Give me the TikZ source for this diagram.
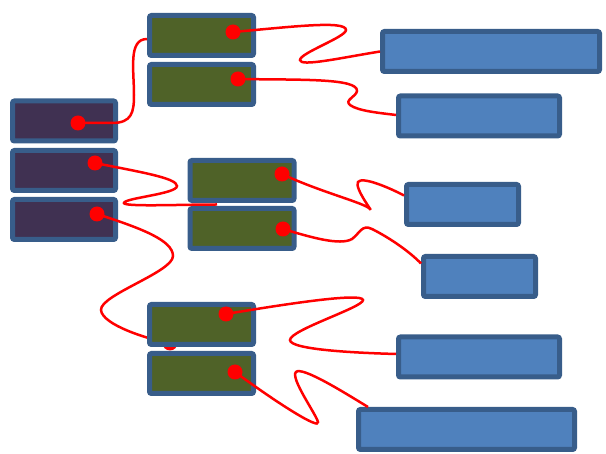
\documentclass[tikz,border=0pt]{standalone}
\usetikzlibrary{calc}
\definecolor{edgeblue}{HTML}{385D8A}
\definecolor{srcfill}{HTML}{403152}
\definecolor{midfill}{HTML}{4F6228}
\definecolor{dstfill}{HTML}{4F81BD}
\tikzset{
  box/.style={draw=edgeblue, line width=5pt, rounded corners=2pt, inner sep=0pt,
              minimum height=40pt},
  srcbox/.style={box, fill=srcfill, minimum width=103pt},
  midbox/.style={box, fill=midfill, minimum width=104pt},
  dstbox/.style={box, fill=dstfill},
  pin/.style={circle, fill=red, inner sep=0pt, minimum size=15pt},
  wire/.style={red, line width=2.5pt}
}
\begin{document}
\begin{tikzpicture}[x=1pt,y=-1pt]
\useasboundingbox (0,0) rectangle (606,454);

% left column
\node[srcbox] (p1) at (64,121) {};
\node[srcbox] (p2) at (64,170.5) {};
\node[srcbox] (p3) at (64,219.5) {};

% this wire runs under the lower middle box, so it comes first
\node[pin] (p3pin) at (97,214) {};
\node[pin] (tailpin) at (170,343) {};
\draw[wire] (p3pin.center)
  .. controls (140,228) and (173,240) .. (173,256)
  .. controls (173,272) and (100,295) .. (101,310)
  .. controls (102,325) and (150,340) .. (tailpin.center);

% middle column
\node[midbox] (g1) at (201.5,35.5) {};
\node[midbox] (g2) at (201.5,84.5) {};
\node[midbox] (g3) at (242,180.5) {};
\node[midbox] (g4) at (242,228.5) {};
\node[midbox] (g5) at (201.5,324.5) {};
\node[midbox] (g6) at (201.5,373.5) {};

% right column
\node[dstbox, minimum width=217pt] (b1) at (491,51.5) {};
\node[dstbox, minimum width=161pt] (b2) at (479,116) {};
\node[dstbox, minimum width=112pt] (b3) at (462.5,204.5) {};
\node[dstbox, minimum width=112pt] (b4) at (479.5,276.5) {};
\node[dstbox, minimum width=161pt] (b5) at (479,357) {};
\node[dstbox, minimum width=216pt] (b6) at (466.5,429.5) {};

% pins
\node[pin] (p1pin) at (78,123) {};
\node[pin] (p2pin) at (95,163) {};
\node[pin] (g1pin) at (233,32) {};
\node[pin] (g2pin) at (238,79) {};
\node[pin] (g3pin) at (282,174) {};
\node[pin] (g4pin) at (283,229) {};
\node[pin] (g5pin) at (226,314) {};
\node[pin] (g6pin) at (235,372) {};

% wires
\draw[wire] (p1pin.center) -- (112,123)
  .. controls (132,123) and (134,112) .. (134,95)
  .. controls (134,70) and (128,39) .. ($(g1.west)+(0,3.5)$);
\draw[wire] (g1pin.center)
  .. controls (290,27) and (346,20) .. (346,30)
  .. controls (346,37) and (300,53) .. (300,60)
  .. controls (300,67) and (340,58) .. (b1.west);
\draw[wire] (g2pin.center)
  .. controls (300,80) and (358,78) .. (357,91)
  .. controls (356,97) and (344,100) .. (350,105)
  .. controls (358,111) and (380,113) .. ($(b2.west)+(0,-1)$);
\draw[wire] (p2pin.center)
  .. controls (140,172) and (177,178) .. (177,186)
  .. controls (177,194) and (124,198) .. (124,203)
  .. controls (124,207) and (180,204.5) .. ($(g3.south)+(-25,1.5)$);
\draw[wire] (g3pin.center)
  .. controls (320,192) and (365,203) .. (370,209)
  .. controls (375,215) and (354,188) .. (358,182)
  .. controls (362,176) and (390,188) .. ($(b3.west)+(0,-9)$);
\draw[wire] (g4pin.center)
  .. controls (310,237) and (340,246) .. (352,239)
  .. controls (360,233) and (362,224) .. (372,229)
  .. controls (390,238) and (410,252) .. ($(b4.west)+(0,-13)$);
\draw[wire] (g5pin.center)
  .. controls (280,305) and (362,292) .. (363,300)
  .. controls (364,307) and (290,330) .. (290,340)
  .. controls (290,350) and (360,353) .. ($(b5.west)+(0,-3)$);
\draw[wire] (g6pin.center)
  .. controls (280,405) and (320,430) .. (318,422)
  .. controls (316,414) and (290,378) .. (296,372)
  .. controls (302,366) and (345,393) .. ($(b6.north west)+(12,0)$);
\end{tikzpicture}
\end{document}
